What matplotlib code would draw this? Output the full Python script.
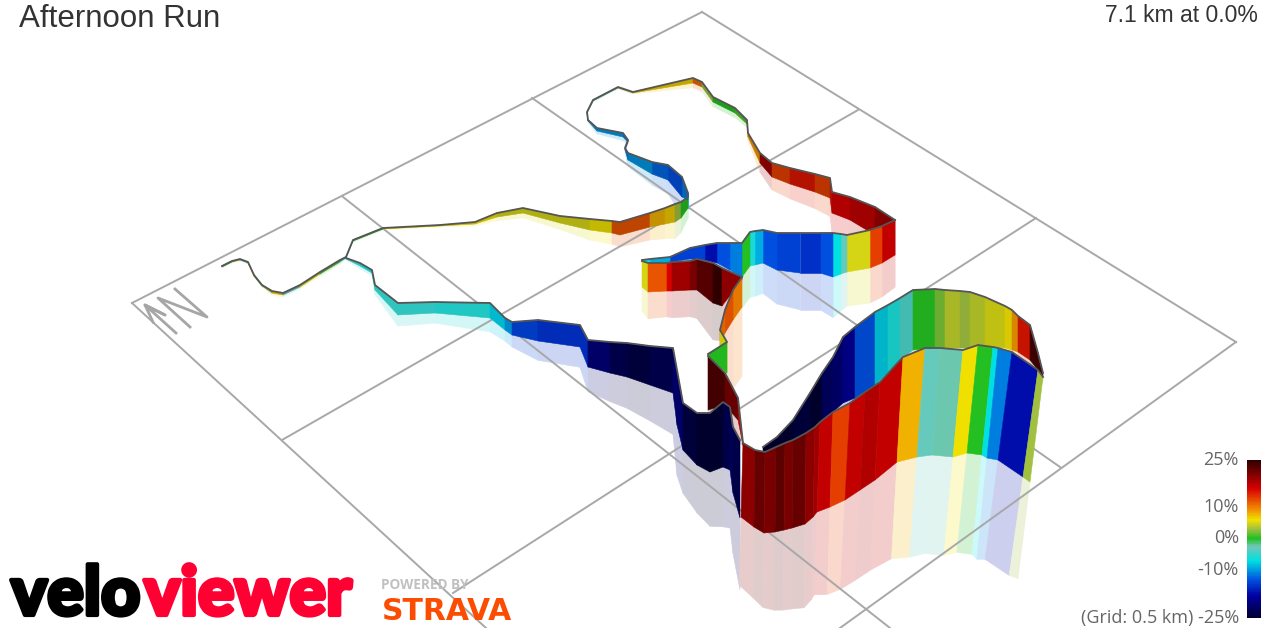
import numpy as np
import matplotlib
matplotlib.use("Agg")
import matplotlib.pyplot as plt
import matplotlib.patheffects as pe
from matplotlib.collections import PolyCollection
from matplotlib.colors import LinearSegmentedColormap, Normalize

# gradient colour scale
scale_grades = [-25, -18, -13, -7, -2.6, 0, 3, 6, 10, 16, 25]
scale_colors = ["#000030", "#0000a0", "#0050e0", "#00e0e0", "#70c8b8", "#20c020",
                "#a0c040", "#f0e000", "#f08000", "#d80000", "#300000"]
legend_grades = [25, 10, 0, -10, -25]
legend_labels = ["25%", "10%", "0%", "-10%", "(Grid: 0.5 km) -25%"]
legend_y = [460, 507, 538, 570, 618]

# grid lines, picture pixels
grid_x = [[132, 702], [282, 858], [453, 1036], [840, 1236], [132, 486], [343, 890], [532, 1060], [702, 1236]]
grid_y = [[303, 12], [440, 110], [593, 218], [628, 342], [303, 628], [197, 628], [98, 467], [12, 342]]

arrow_x = [176, 145, 165, 145, 153]
arrow_y = [333, 305, 315, 305, 322]
north_x = [190, 158, 207, 175]
north_y = [327, 298, 317, 289]

# route pieces: top x, top y, bottom y, grade of the strip starting at that point
start_x = [222, 232, 240, 248, 254, 262, 272, 283, 300, 320, 340, 346]
start_top = [266, 261, 259, 262, 275, 285, 291, 293, 285, 272, 260, 257]
start_bot = [267, 262, 260, 263, 276, 286, 293, 295, 287, 274, 262, 258]
start_grade = [1, 3, -2, 5, 1, 4, 7, -3, 5, 1, -5, -5]

branch_x = [346, 353, 383, 440, 475, 497, 523, 560, 590, 612, 620, 650, 665, 675, 681, 688,
            688, 682, 668, 652, 628, 625, 628, 623, 597, 588, 587, 593, 618, 633, 693, 702, 713, 735, 747, 748, 760,
            772, 790, 815, 830, 832, 850, 875, 895]
branch_top = [257, 240, 228, 225, 222, 213, 208, 216, 219, 221, 222, 213, 208, 204, 202, 197,
              193, 177, 165, 162, 153, 148, 140, 133, 128, 120, 112, 100, 87, 92, 78, 82, 97, 108, 120, 133, 153,
              163, 168, 174, 178, 192, 197, 207, 220]
branch_bot = [258, 241, 229, 226, 224, 217, 213, 223, 230, 233, 235, 227, 224, 222, 218, 208,
              200, 197, 180, 174, 160, 150, 142, 137, 131, 121, 113, 101, 88, 93, 83, 87, 102, 113, 124, 137, 163,
              177, 184, 192, 198, 213, 220, 235, 255]
branch_grade = [-5, 0, 6, 6, 6, 5, 5, 5, 6, 12, 12, 8, 7, 3, 0, -5,
                -11, -13, -12, -10, -11, -12, -11, -10, -10, -5, -1, -2, 3, 7, 11, 3, 0, 1, 5, 9, 19,
                13, 15, 13, 15, 16, 17, 19, 19]

back_x = [895, 882, 870, 847, 841, 833, 820, 800, 777, 763, 755, 750, 742, 730, 717, 705, 690, 670, 650, 642]
back_top = [220, 226, 230, 235, 234, 233, 233, 233, 233, 230, 231, 232, 243, 243, 243, 245, 248, 257, 259, 260]
back_bot = [255, 263, 268, 272, 274, 277, 273, 273, 270, 263, 265, 266, 277, 270, 263, 260, 259, 262, 264, 261]
back_grade = [17, 13, 5, -3, -7, -13, -15, -14, -13, -9, -6, 0, -11, -13, -17, -14, -14, -9, -7, -7]

red_x = [642, 648, 667, 672, 690, 697, 713, 722, 742]
red_top = [261, 263, 263, 262, 261, 259, 263, 268, 277]
red_bot = [287, 292, 291, 291, 290, 290, 303, 306, 280]
red_grade = [5, 12, 16, 19, 21, 23, 25, 20, 20]

turn_x = [742, 733, 725, 720, 727, 708]
turn_top = [277, 290, 310, 330, 342, 354]
turn_bot = [307, 320, 333, 345, 373, 356]
turn_grade = [10, 12, 11, 5, 0, 0]

drop_x = [708, 725, 738, 743]
drop_top = [356, 373, 398, 443]
drop_bot = [410, 405, 420, 445]
drop_grade = [24, 22, 18, 18]

south_x = [346, 360, 372, 375, 398, 435, 490, 505, 512, 538, 580, 588, 610, 627, 650, 673, 677, 683, 697, 710, 723, 730, 733, 740]
south_top = [258, 263, 270, 285, 303, 302, 303, 318, 322, 320, 325, 340, 342, 343, 346, 348, 370, 403, 413, 413, 402, 407, 427, 440]
south_bot = [259, 266, 273, 290, 315, 313, 318, 330, 335, 341, 347, 367, 373, 377, 385, 393, 425, 450, 465, 472, 467, 470, 493, 518]
south_grade = [-5, -6, -5, -5, -5, -5.5, -8, -10, -14, -15, -15, -21, -23, -24, -23, -21, -21, -24, -25, -25, -23, -22, -23, -24]

far_x = [763, 777, 793, 810, 822, 833, 843, 855, 875, 888, 900, 913, 935, 945, 960, 970, 985, 1005, 1012, 1018, 1030, 1038, 1043]
far_top = [447, 437, 420, 393, 373, 357, 337, 327, 312, 305, 298, 290, 289, 290, 291, 292, 297, 306, 310, 316, 325, 353, 373]
far_bot = [452, 447, 440, 433, 423, 412, 403, 398, 385, 372, 360, 350, 348, 348, 348, 348, 346, 348, 350, 352, 360, 370, 377]
far_grade = [-25, -25, -24, -25, -22, -21, -19, -13, -8, -6, -4, 0, 2, 4, 3, 4, 5, 6, 9, 15, 24, 24, 24]

near_x = [743, 755, 765, 776, 785, 793, 806, 815, 820, 833, 850, 865, 880, 903, 925, 940, 963, 978, 993, 998, 1012, 1038, 1043]
near_xb = [741, 754, 764, 775, 784, 792, 805, 813, 817, 830, 845, 860, 875, 897, 917, 932, 953, 967, 982, 987, 998, 1023, 1030]
near_top = [443, 450, 452, 447, 443, 440, 433, 427, 422, 412, 403, 392, 382, 357, 348, 348, 350, 345, 347, 348, 352, 370, 377]
near_bot = [517, 527, 533, 532, 530, 528, 524, 517, 512, 507, 500, 490, 480, 462, 457, 455, 457, 453, 455, 458, 460, 477, 482]
near_grade = [20, 22, 21, 22.5, 21, 22, 20, 19, 17, 13, 17, 18, 17, 8, -3, -2.5, 6, 0, -7, -11, -17, 3, 3]

pieces = [
    (start_x, None, start_top, start_bot, start_grade),
    (branch_x, None, branch_top, branch_bot, branch_grade),
    (back_x, None, back_top, back_bot, back_grade),
    (red_x, None, red_top, red_bot, red_grade),
    (turn_x, None, turn_top, turn_bot, turn_grade),
    (drop_x, None, drop_top, drop_bot, drop_grade),
    (south_x, None, south_top, south_bot, south_grade),
    (far_x, None, far_top, far_bot, far_grade),
    (near_x, near_xb, near_top, near_bot, near_grade),
]
piece_shade = [0.8, 0.82, 1.0, 1.0, 0.95, 1.0, 0.92, 0.9, 1.0]
piece_reflect = [0.92, 0.92, 0.92, 0.92, 2.3, 0.92, 0.92, 0.92, 0.92]

cmap = LinearSegmentedColormap.from_list(
    "grade", [((g + 25) / 50, c) for g, c in zip(scale_grades, scale_colors)])
norm = Normalize(-25, 25)

fig = plt.figure(figsize=(12.61, 6.28), dpi=100)
ax = fig.add_axes([0, 0, 1, 1])
ax.set_xlim(0, 1261)
ax.set_ylim(628, 0)
ax.axis("off")


def strips(xa, ya, xb, yb):
    polys = []
    for i in range(len(xa) - 1):
        polys.append([(xa[i], ya[i]), (xa[i + 1], ya[i + 1]), (xb[i + 1], yb[i + 1]), (xb[i], yb[i])])
    return polys


# reflections go under the grid and every wall
for (x, xb, top, bot, grade), scale in zip(pieces, piece_reflect):
    assert len(x) == len(top) == len(bot) == len(grade)
    x, top, bot = np.array(x, float), np.array(top, float), np.array(bot, float)
    xb = x if xb is None else np.array(xb, float)
    polys = strips(xb, bot, xb + (xb - x) * scale, bot + (bot - top) * scale)
    colors = cmap(norm(np.array(grade[:-1], float)))
    colors[:, :3] = colors[:, :3] * 0.2 + 0.8
    ax.add_collection(PolyCollection(polys, facecolors=colors, edgecolors="face", linewidths=0.4, zorder=1))

for gx, gy in zip(grid_x, grid_y):
    ax.plot(gx, gy, color="#a8a8a8", lw=1.4, zorder=2)
ax.plot(arrow_x, arrow_y, color="#a6a6a6", lw=2, zorder=2)
ax.plot(north_x, north_y, color="#a6a6a6", lw=2, zorder=2)

for n, (x, xb, top, bot, grade) in enumerate(pieces):
    x, top, bot = np.array(x, float), np.array(top, float), np.array(bot, float)
    xb = x if xb is None else np.array(xb, float)
    colors = cmap(norm(np.array(grade[:-1], float)))
    colors[:, :3] *= piece_shade[n]
    ax.add_collection(PolyCollection(strips(x, top, xb, bot), facecolors=colors, edgecolors="face",
                                     linewidths=0.4, zorder=3 + n))
    ax.plot(x, top, color="#555555", lw=1.3, zorder=3 + n, solid_joinstyle="round")

# legend bar
bar_grades = np.linspace(25, -25, 201)
bar_y = np.interp(bar_grades, legend_grades[::-1], legend_y[::-1])
ax.pcolormesh([1247, 1261], bar_y, bar_grades[:-1].reshape(-1, 1), cmap=cmap, norm=norm, zorder=3)
for lab, ly in zip(legend_labels, legend_y):
    ax.text(1239, ly, lab, ha="right", va="center", fontsize=13, color="#666666", family="Open Sans")

ax.text(19, 27, "Afternoon Run", fontsize=22.5, color="#333333", family="Liberation Sans", va="baseline")
ax.text(1258, 22, "7.1 km at 0.0%", fontsize=16.5, color="#333333", family="Liberation Sans", va="baseline", ha="right")

heavy = [pe.withStroke(linewidth=3, foreground="#000000")]
heavy_red = [pe.withStroke(linewidth=3, foreground="#ff0033")]
ax.text(11, 615, "velo", fontsize=49, color="#000000", family="Lato", weight="black", zorder=30, path_effects=heavy)
ax.text(144, 615, "viewer", fontsize=49, color="#ff0033", family="Lato", weight="black", zorder=30, path_effects=heavy_red)
ax.text(381, 589, "POWERED BY", fontsize=9.8, color="#c0c0c0", family="Open Sans", weight="bold", zorder=30)
ax.text(382, 620, "STRAVA", fontsize=21.5, color="#fc4c02", family="DejaVu Sans", weight="bold", zorder=30)

fig.savefig("out.png", dpi=100)
